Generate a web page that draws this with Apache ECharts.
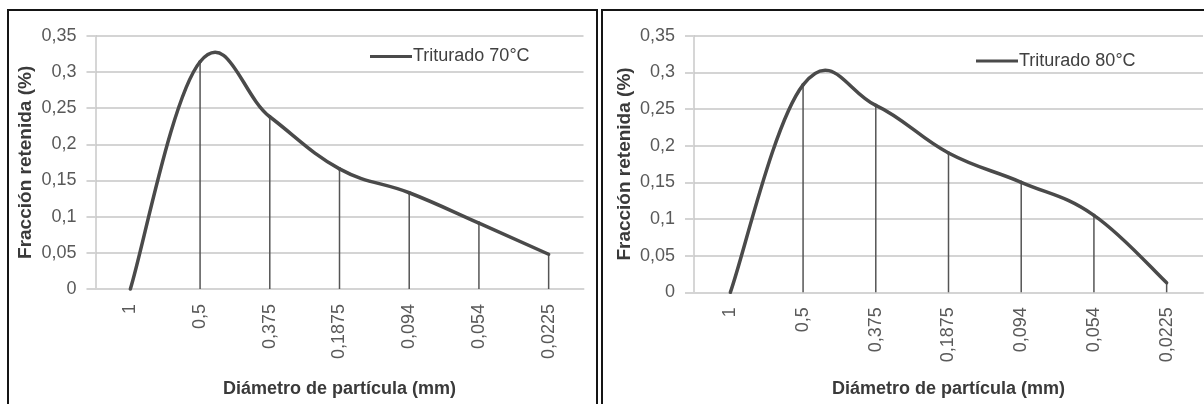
<!DOCTYPE html>
<html>
<head>
<meta charset="utf-8">
<script src="https://cdn.jsdelivr.net/npm/echarts@6/dist/echarts.min.js"></script>
<style>
  html, body { margin: 0; padding: 0; background: #fff; }
  #wrap { position: relative; width: 1204px; height: 404px; overflow: hidden; }
  .panel { position: absolute; top: 9px; height: 420px; border: 2px solid #151515; box-sizing: border-box; }
  #p1 { left: 7px; width: 591px; }
  #p2 { left: 601px; width: 640px; }
  #chart { position: absolute; left: 0; top: 0; width: 1204px; height: 404px; }
</style>
</head>
<body>
<div id="wrap">
  <div class="panel" id="p1"></div>
  <div class="panel" id="p2"></div>
  <div id="chart"></div>
</div>
<script>
// ---- data ----
const categories = ['1', '0,5', '0,375', '0,1875', '0,094', '0,054', '0,0225'];
const triturado70 = [0, 0.314, 0.238, 0.166, 0.133, 0.091, 0.048];
const triturado80 = [0, 0.283, 0.255, 0.19, 0.15, 0.105, 0.013];
const seriesNames = ['Triturado 70°C', 'Triturado 80°C'];
const yMin = 0, yMax = 0.35, yInterval = 0.05;
const xTitle = 'Diámetro de partícula (mm)';
const yTitle = 'Fracción retenida (%)';

// ---- chart ----
const FONT = '"Liberation Sans", Arial, sans-serif';
const LINE_COLOR = '#4a4a4a';
const chart = echarts.init(document.getElementById('chart'), null, { renderer: 'canvas' });

function fmt(v) { return String(+v.toFixed(2)).replace('.', ','); }

function xAxis(gridIndex, gap) {
  return {
    type: 'category', gridIndex, data: categories, boundaryGap: true,
    axisLine: { show: true, lineStyle: { color: '#d4d4d4', width: 2 } },
    axisTick: { show: false },
    axisLabel: { rotate: 90, margin: 15, fontSize: 18, color: '#595959', fontFamily: FONT },
    name: xTitle, nameLocation: 'middle', nameGap: gap,
    nameTextStyle: { fontSize: 18, fontWeight: 'bold', color: '#3a3a3a', fontFamily: FONT },
    splitLine: { show: false }
  };
}
function yAxis(gridIndex) {
  return {
    type: 'value', gridIndex, min: yMin, max: yMax, interval: yInterval,
    axisLine: { show: true, lineStyle: { color: '#c8c8c8', width: 1.5 } },
    axisTick: { show: true, length: 9, lineStyle: { color: '#d4d4d4', width: 2 } },
    axisLabel: { formatter: fmt, margin: 19, fontSize: 18, color: '#595959', fontFamily: FONT },
    splitLine: { show: true, lineStyle: { color: '#d4d4d4', width: 2 } },
    name: yTitle, nameLocation: 'middle', nameGap: 60, nameRotate: 90,
    nameTextStyle: { fontSize: 19, fontWeight: 'bold', color: '#3a3a3a', fontFamily: FONT }
  };
}

// Smoothed line (Excel-like Catmull-Rom bezier) drawn through the data via the axes' scales
function smoothSeries(name, arr, idx) {
  const n = arr.length;
  const K = 0.2;
  return {
    name, type: 'custom', xAxisIndex: idx, yAxisIndex: idx, z: 5,
    data: arr.map((v, i) => [i, v]),
    encode: { x: 0, y: 1 },
    itemStyle: { color: LINE_COLOR },
    renderItem: function (params, api) {
      const i = params.dataIndex;
      if (i >= n - 1) return null;
      const p = j => api.coord([j, arr[j]]);
      const P0 = p(Math.max(i - 1, 0)), P1 = p(i), P2 = p(i + 1), P3 = p(Math.min(i + 2, n - 1));
      return {
        type: 'bezierCurve',
        shape: {
          x1: P1[0], y1: P1[1], x2: P2[0], y2: P2[1],
          cpx1: P1[0] + (P2[0] - P0[0]) * K, cpy1: P1[1] + (P2[1] - P0[1]) * K,
          cpx2: P2[0] - (P3[0] - P1[0]) * K, cpy2: P2[1] - (P3[1] - P1[1]) * K
        },
        style: { stroke: LINE_COLOR, lineWidth: 3.5, fill: null, lineCap: 'round' }
      };
    }
  };
}
function dropSeries(data, idx) {
  return {
    type: 'bar', data, xAxisIndex: idx, yAxisIndex: idx, barWidth: 1.5,
    itemStyle: { color: '#555' }, silent: true, z: 3
  };
}

chart.setOption({
  animation: false,
  textStyle: { fontFamily: FONT },
  grid: [
    { left: 95.5, top: 35.7, width: 488, height: 253.3 },
    { left: 694, top: 35.7, width: 509, height: 256.6 }
  ],
  legend: [
    { data: [{ name: seriesNames[0], icon: 'rect' }], left: 365, top: 42.5, itemWidth: 42, itemHeight: 3, itemGap: 0,
      textStyle: { fontSize: 18, color: '#404040', fontFamily: FONT, padding: [0, 0, 0, -4] } },
    { data: [{ name: seriesNames[1], icon: 'rect' }], left: 971, top: 47, itemWidth: 42, itemHeight: 3, itemGap: 0,
      textStyle: { fontSize: 18, color: '#404040', fontFamily: FONT, padding: [0, 0, 0, -4] } }
  ],
  xAxis: [xAxis(0, 91), xAxis(1, 88)],
  yAxis: [yAxis(0), yAxis(1)],
  series: [
    dropSeries(triturado70, 0),
    smoothSeries(seriesNames[0], triturado70, 0),
    dropSeries(triturado80, 1),
    smoothSeries(seriesNames[1], triturado80, 1)
  ]
});
</script>
</body>
</html>
